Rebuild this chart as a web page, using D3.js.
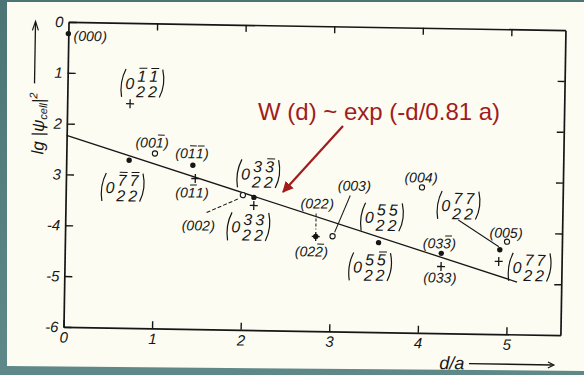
<!DOCTYPE html>
<html>
<head>
<meta charset="utf-8">
<script src="https://cdn.jsdelivr.net/npm/d3@7"></script>
<style>
  html, body { margin: 0; padding: 0; background: #4f7a7a; }
  svg { display: block; }
  .scan text { font-family: "Liberation Sans Narrow", "Liberation Sans", sans-serif; font-style: italic; fill: #161616; }
</style>
</head>
<body>
<svg id="chart" width="584" height="375"></svg>
<script>
// d/a of each computed cell contribution
const distance = [0, 0.71, 1.00, 0.71, 1.43, 1.46, 2.00, 2.125, 2.125, 2.83, 3.02, 3.54, 4.02, 4.25, 4.25, 4.91, 4.99, 4.90];
// lg |psi_cell|^2 at each distance
const lgPsi = [-0.23, -1.59, -2.56, -2.70, -2.78, -3.04, -3.35, -3.39, -3.55, -4.14, -4.13, -4.24, -3.14, -4.43, -4.69, -4.34, -4.18, -4.57];
// marker used for each point
const markerKind = ["dot", "plus", "open", "dot", "dot", "plus", "open", "dot", "plus", "star", "open", "dot", "open", "dot", "plus", "dot", "open", "plus"];

// index labels: "-" puts a bar over the number, "p/q" is a stacked fraction
const labelText = ["0,0,0", "0,-1/2,-1/2", "0,0,-1", "0,-7/2,-7/2", "0,-1,-1", "0,-1,1", "0,0,2",
  "0,3/2,-3/2", "0,3/2,3/2", "0,2,2", "0,2,-2", "0,0,3", "0,5/2,5/2", "0,5/2,-5/2", "0,0,4",
  "0,3,-3", "0,3,3", "0,7/2,7/2", "0,0,5", "0,7/2,7/2"];
// point that each label names
const labelPoint = [0, 1, 2, 3, 4, 5, 6, 7, 8, 9, 9, 10, 11, 11, 12, 13, 14, 15, 16, 17];

// fitted decay W(d) ~ exp(-d / 0.81 a), as its two end points
const fitDistance = [0, 5.11];
const fitLg = [-2.23, -4.97];

// axis ticks and their labels
const xTicks = [0, 1, 2, 3, 4, 5];
const xTickLabels = ["0", "1", "2", "3", "4", "5"];
const yTicks = [0, -1, -2, -3, -4, -5, -6];
const yTickLabels = ["0", "1", "2", "3", "-4", "-5", "-6"];

// ---- layout ----
const W = 584, H = 375;
const ink = "#161616", paper = "#fcfcf3", red = "#a11c1c";
// label centre offsets from their point, in px
const labelOffset = [[22, 2], [12, -20], [-3, -11], [-6, 28], [-1, -12], [-3, 14], [-44, 31],
  [4, -23], [-5, 22], [1, -33], [-4, 15], [21, -51], [3, -25], [-8, 25], [-1, -10],
  [-2, -10], [-1, 11], [-42, -43], [-1, -9], [31, 6]];
// leader lines from a label towards its point (offsets from the point)
const leaders = [
  { p: 6, from: [-36, 18], to: [-5, 4], dash: "4,2" },
  { p: 9, from: [0, -23], to: [0, -7], dash: "3,2" },
  { p: 10, from: [17, -41], to: [2, -4], dash: null },
  { p: 15, from: [-42, -29], to: [-1, -3], dash: null }
];

const svg = d3.select("#chart");
const defs = svg.append("defs");
const grad = defs.append("linearGradient").attr("id", "slide")
  .attr("x1", 0).attr("y1", 0).attr("x2", 0).attr("y2", 1);
grad.append("stop").attr("offset", "0%").attr("stop-color", "#4b7575");
grad.append("stop").attr("offset", "100%").attr("stop-color", "#5f8989");

defs.append("marker").attr("id", "redHead").attr("viewBox", "0 0 10 10")
  .attr("refX", 9).attr("refY", 5).attr("markerWidth", 5).attr("markerHeight", 5)
  .attr("orient", "auto").attr("markerUnits", "strokeWidth")
  .append("path").attr("d", "M0,0L10,5L0,10z").attr("fill", red);

// slide backdrop and the page
svg.append("rect").attr("width", W).attr("height", H).attr("fill", "url(#slide)");
svg.append("polygon").attr("points", "7,2 584,2 584,371 7,366").attr("fill", paper);

const x = d3.scaleLinear().domain([0, 5.61]).range([66, 563]);
const y = d3.scaleLinear().domain([0, -6]).range([26, 331]);

// the printed figure sits slightly skewed on the page
const plot = svg.append("g").attr("class", "scan").attr("transform", "rotate(0.95,313,177)");

// frame with inward ticks
const axisStyle = g => {
  g.select(".domain").attr("stroke", ink).attr("stroke-width", 1.7);
  g.selectAll(".tick line").attr("stroke", ink).attr("stroke-width", 1.4);
  g.selectAll(".tick text").attr("font-family", null).attr("font-size", 15).attr("fill", ink);
};
plot.append("g").attr("transform", `translate(${x.range()[0]},0)`)
  .call(d3.axisLeft(y).tickValues(yTicks).tickSize(-8).tickSizeOuter(0).tickPadding(5)
    .tickFormat((d, i) => yTickLabels[i]))
  .call(axisStyle);
plot.append("g").attr("transform", `translate(${x.range()[1]},0)`)
  .call(d3.axisLeft(y).tickValues(yTicks.slice(1, -1)).tickSize(7).tickSizeOuter(0).tickFormat(""))
  .call(axisStyle);
plot.append("g").attr("transform", `translate(0,${y.range()[1]})`)
  .call(d3.axisBottom(x).tickValues(xTicks).tickSize(-7).tickSizeOuter(0).tickPadding(5)
    .tickFormat((d, i) => xTickLabels[i]))
  .call(axisStyle);
plot.append("g").attr("transform", `translate(0,${y.range()[0]})`)
  .call(d3.axisBottom(x).tickValues(xTicks.slice(1)).tickSize(7).tickSizeOuter(0).tickFormat(""))
  .call(axisStyle);

// fitted line
plot.append("path")
  .datum(fitDistance.map((d, i) => [d, fitLg[i]]))
  .attr("d", d3.line().x(d => x(d[0])).y(d => y(d[1])))
  .attr("fill", "none").attr("stroke", ink).attr("stroke-width", 1.3);

// leader lines
plot.append("g").selectAll("line").data(leaders).join("line")
  .attr("x1", d => x(distance[d.p]) + d.from[0]).attr("y1", d => y(lgPsi[d.p]) + d.from[1])
  .attr("x2", d => x(distance[d.p]) + d.to[0]).attr("y2", d => y(lgPsi[d.p]) + d.to[1])
  .attr("stroke", ink).attr("stroke-width", 1).attr("stroke-dasharray", d => d.dash);

// markers
const points = distance.map((d, i) => ({ d, v: lgPsi[i], kind: markerKind[i] }));
const mk = plot.append("g");
points.forEach(p => {
  const px = x(p.d), py = y(p.v);
  if (p.kind === "dot" || p.kind === "star")
    mk.append("circle").attr("cx", px).attr("cy", py).attr("r", 2.7).attr("fill", ink);
  if (p.kind === "open")
    mk.append("circle").attr("cx", px).attr("cy", py).attr("r", 2.6)
      .attr("fill", paper).attr("stroke", ink).attr("stroke-width", 1.1);
  if (p.kind === "plus" || p.kind === "star")
    mk.append("path").attr("d", `M${px - 4},${py}H${px + 4}M${px},${py - 4.5}V${py + 4.5}`)
      .attr("stroke", ink).attr("stroke-width", 1.3);
});

// index labels such as (0 1/2 1/2) with stacked fractions and bars
function indexLabel(parent, code, cx, cy) {
  const cells = code.split(",");
  const frac = cells.some(c => c.includes("/"));
  const g = parent.append("g");
  const fs = frac ? 16 : 14;
  let cursor = 0;
  const put = (str, size, base, at) => g.append("text").attr("x", at).attr("y", base)
    .style("font-size", size + "px").text(str).node().getComputedTextLength();
  const bar = (x0, w, yy) => g.append("line").attr("x1", x0 + 2).attr("x2", x0 + w + 1)
    .attr("y1", yy).attr("y2", yy).attr("stroke", ink).attr("stroke-width", 1);
  const paren = (c, open) => g.append("path")
    .attr("d", open ? `M${c + 5},-14Q${c - 1.5},-1 ${c + 1},14` : `M${c + 3},-14Q${c + 6.5},1 ${c},14`)
    .attr("fill", "none").attr("stroke", ink).attr("stroke-width", 1.2);
  if (frac) { paren(cursor, true); cursor += 4.5; }
  else cursor += put("(", fs, 5, cursor);
  cells.forEach(c => {
    const neg = c.startsWith("-");
    const body = neg ? c.slice(1) : c;
    if (body.includes("/")) {
      const [n, dn] = body.split("/");
      cursor += 3;
      const wn = put(n, fs, -1.5, cursor);
      const wd = put(dn, fs, 14, cursor - 1);
      if (neg) bar(cursor, wn, -15);
      cursor += Math.max(wn, wd);
    } else {
      const w = put(body, fs, frac ? 6 : 5, cursor);
      if (neg) bar(cursor, w, -7.5);
      cursor += w;
    }
  });
  if (frac) { cursor += 1.5; paren(cursor, false); }
  else put(")", fs, 5, cursor + 0.5);
  const bb = g.node().getBBox();
  g.attr("transform", `translate(${cx - (bb.x + bb.width / 2)},${cy - (bb.y + bb.height / 2)})`);
}
const lab = plot.append("g");
labelText.forEach((code, i) => {
  const p = labelPoint[i];
  indexLabel(lab, code, x(distance[p]) + labelOffset[i][0], y(lgPsi[p]) + labelOffset[i][1]);
});

// axis titles with their arrows
const yTitle = plot.append("text").attr("transform", "translate(43,128) rotate(-90)")
  .attr("text-anchor", "middle").style("font-size", "17px");
yTitle.append("tspan").text("lg |\u03c8");
yTitle.append("tspan").style("font-size", "11px").attr("dy", 3).text("cell");
yTitle.append("tspan").attr("dy", -3).text("|");
yTitle.append("tspan").style("font-size", "11px").attr("dy", -7).text("2");
plot.append("path").attr("d", "M33,88V27").attr("stroke", ink).attr("stroke-width", 1.3);
plot.append("path").attr("d", "M30,35L33,26L36,35").attr("fill", "none").attr("stroke", ink).attr("stroke-width", 1.2);

plot.append("text").attr("x", 455).attr("y", 367).attr("text-anchor", "middle")
  .style("font-size", "18px").text("d/a");
plot.append("path").attr("d", "M472,361H556").attr("stroke", ink).attr("stroke-width", 1.4);
plot.append("path").attr("d", "M551,358L557,361L551,364").attr("fill", "none").attr("stroke", ink).attr("stroke-width", 1.2);

// annotation naming the fitted decay
svg.append("text").attr("x", 258).attr("y", 120)
  .attr("font-family", "'Liberation Sans', Arial, sans-serif").attr("font-size", 24)
  .attr("fill", red).text("W (d) ~ exp (-d/0.81 a)");
svg.append("line").attr("x1", 343).attr("y1", 126).attr("x2", 283).attr("y2", 192)
  .attr("stroke", red).attr("stroke-width", 2.2).attr("marker-end", "url(#redHead)");
</script>
</body>
</html>
